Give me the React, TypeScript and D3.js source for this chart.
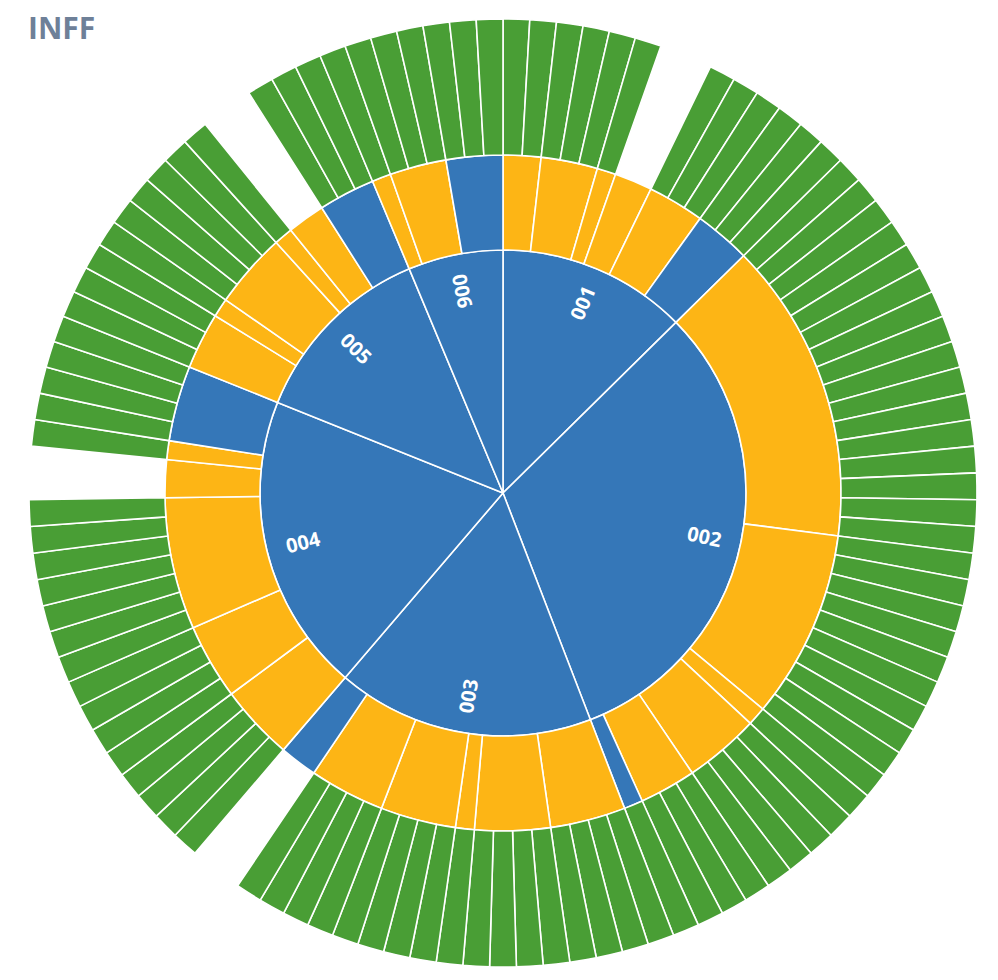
import React, { useMemo } from "react";
import * as d3 from "d3";

// ---- data ----
const title = "INFF";
const categories = ["001", "002", "003", "004", "005", "006"];
// number of unit leaves under each second-level node (0 = node has no leaves)
const leafCounts: number[][] = [
  [2, 3, 1, 0, 3, 3],
  [16, 10, 1, 4, 3, 1],
  [4, 4, 1, 4, 4, 0],
  [4, 4, 7, 0, 1, 4],
  [3, 1, 4, 1, 0, 3],
  [1, 3, 3],
];
// value of second-level nodes that have no leaves
const ownValues: number[][] = [
  [0, 0, 0, 2, 0, 0],
  [0, 0, 0, 0, 0, 0],
  [0, 0, 0, 0, 0, 2],
  [0, 0, 0, 2, 0, 0],
  [0, 0, 0, 0, 2, 0],
  [0, 0, 0],
];
// kind of second-level node: "g" = group, "o" = other
const subKinds: string[][] = [
  ["g", "g", "g", "g", "g", "o"],
  ["g", "g", "g", "g", "g", "o"],
  ["g", "g", "g", "g", "g", "o"],
  ["g", "g", "g", "g", "g", "o"],
  ["g", "g", "g", "g", "g", "o"],
  ["g", "g", "o"],
];

const W = 998;
const H = 980;
const CX = 503;
const CY = 493;
const BLUE = "#3577b8";
const ORANGE = "#fdb515";
const GREEN = "#499e35";

type Node = { name: string; kind?: string; value?: number; children?: Node[] };

export default function App() {
  const { arcs, labels } = useMemo(() => {
    const data: Node = {
      name: "root",
      children: categories.map((c, i) => ({
        name: c,
        children: leafCounts[i].map((n, j) => {
          const node: Node = { name: `${c}-${j + 1}`, kind: subKinds[i][j] };
          if (n > 0) {
            node.children = d3.range(n).map((k) => ({ name: `${c}-${j + 1}-${k + 1}`, value: 1 }));
          } else {
            node.value = ownValues[i][j];
          }
          return node;
        }),
      })),
    };
    const root = d3
      .hierarchy<Node>(data)
      .sum((d) => (d.children ? 0 : d.value ?? 0));
    d3.partition<Node>().size([2 * Math.PI, 4])(root);

    const r = d3.scaleLinear().domain([1, 2, 3, 4]).range([0, 243, 338, 474]);
    const arc = d3
      .arc<any>()
      .startAngle((d) => d.x0)
      .endAngle((d) => d.x1)
      .innerRadius((d) => r(d.y0))
      .outerRadius((d) => r(d.y1));

    const fillOf = (d: any) => {
      if (d.depth === 1) return BLUE;
      if (d.depth === 2) return d.data.kind === "o" ? BLUE : ORANGE;
      return GREEN;
    };

    const nodes = root.descendants().filter((d) => d.depth > 0);
    const arcs = nodes.map((d: any, i) => ({ key: i, path: arc(d) as string, fill: fillOf(d) }));

    const labelR = 206;
    const labels = nodes
      .filter((d) => d.depth === 1)
      .map((d: any) => {
        const a = (d.x0 + d.x1) / 2;
        const deg = (a * 180) / Math.PI;
        const rot = deg > 180 ? deg - 270 : deg - 90;
        return {
          name: d.data.name,
          x: labelR * Math.sin(a),
          y: -labelR * Math.cos(a),
          rot,
        };
      });
    return { arcs, labels };
  }, []);

  return (
    <svg
      width={W}
      height={H}
      style={{ position: "fixed", left: 0, top: 0, background: "#fff" }}
    >
      <text
        x={28}
        y={39}
        fontFamily="'Open Sans', sans-serif"
        fontWeight={700}
        fontSize={30}
        fill="#6e8098"
      >
        {title}
      </text>
      <g transform={`translate(${CX},${CY})`}>
        {arcs.map((a) => (
          <path key={a.key} d={a.path} fill={a.fill} stroke="#fff" strokeWidth={1.6} strokeLinejoin="round" />
        ))}
        {labels.map((l) => (
          <text
            key={l.name}
            transform={`translate(${l.x},${l.y}) rotate(${l.rot})`}
            textAnchor="middle"
            dominantBaseline="central"
            fontFamily="'Open Sans', sans-serif"
            fontWeight={700}
            fontSize={20}
            fill="#fff"
          >
            {l.name}
          </text>
        ))}
      </g>
    </svg>
  );
}
